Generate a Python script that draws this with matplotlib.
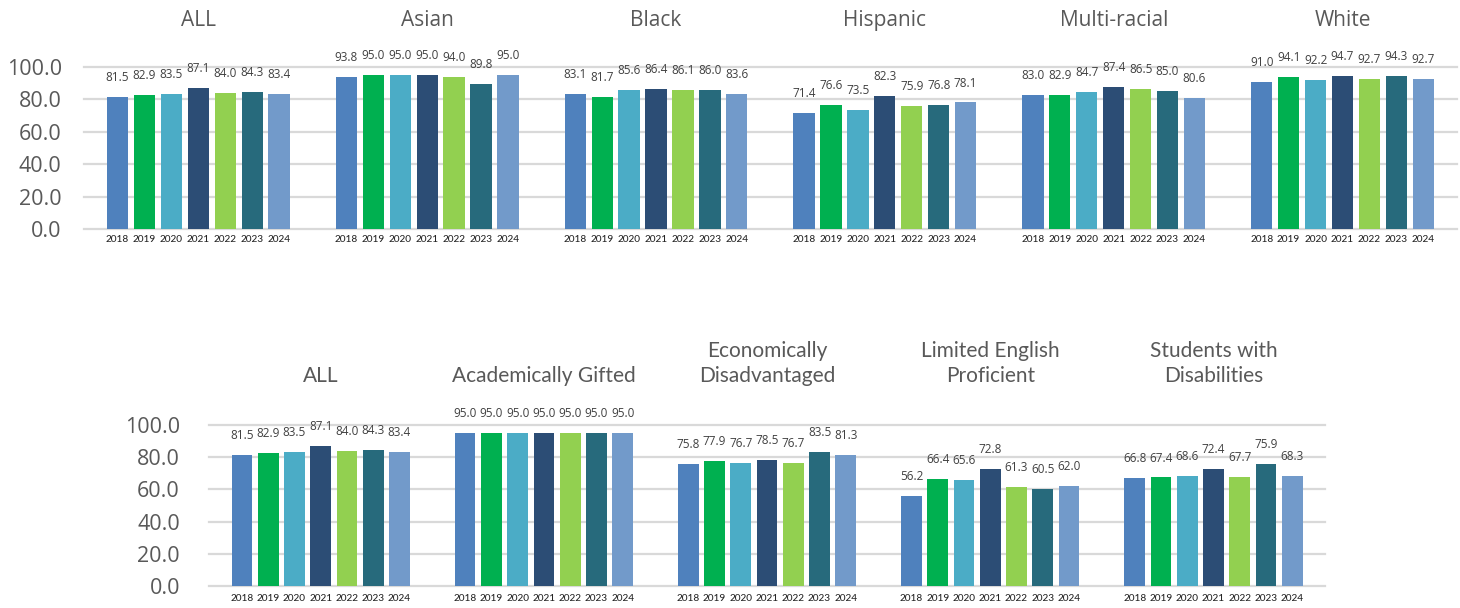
import matplotlib
matplotlib.use("Agg")
import matplotlib.pyplot as plt

years = ["2018", "2019", "2020", "2021", "2022", "2023", "2024"]
colors = ["#4F81BD", "#00B050", "#4BACC6", "#2C4D75", "#92D050", "#276A7C", "#729ACA"]

race_groups = ["ALL", "Asian", "Black", "Hispanic", "Multi-racial", "White"]
race_all = [81.5, 82.9, 83.5, 87.1, 84.0, 84.3, 83.4]
race_asian = [93.8, 95.0, 95.0, 95.0, 94.0, 89.8, 95.0]
race_black = [83.1, 81.7, 85.6, 86.4, 86.1, 86.0, 83.6]
race_hispanic = [71.4, 76.6, 73.5, 82.3, 75.9, 76.8, 78.1]
race_multi = [83.0, 82.9, 84.7, 87.4, 86.5, 85.0, 80.6]
race_white = [91.0, 94.1, 92.2, 94.7, 92.7, 94.3, 92.7]

sub_groups = ["ALL", "Academically Gifted", "Economically\nDisadvantaged",
              "Limited English\nProficient", "Students with\nDisabilities"]
sub_all = [81.5, 82.9, 83.5, 87.1, 84.0, 84.3, 83.4]
sub_gifted = [95.0, 95.0, 95.0, 95.0, 95.0, 95.0, 95.0]
sub_econ = [75.8, 77.9, 76.7, 78.5, 76.7, 83.5, 81.3]
sub_lep = [56.2, 66.4, 65.6, 72.8, 61.3, 60.5, 62.0]
sub_swd = [66.8, 67.4, 68.6, 72.4, 67.7, 75.9, 68.3]

G = 8.5  # slots per group
BW = 0.79


def panel(ax, groups, series, title_font, title_y, title_va, ypad, xpad):
    xs, labs = [], []
    for g, vals in enumerate(series):
        for j, v in enumerate(vals):
            x = g * G + (j - 3)
            ax.bar(x, v, width=BW, color=colors[j], zorder=3)
            ax.annotate(f"{v:.1f}", (x, v), xytext=(0, 14), textcoords="offset points",
                        ha="center", va="center", fontsize=8.5, color="#404040",
                        family="Open Sans")
            xs.append(x)
            labs.append(years[j])
        ax.text(g * G, title_y, groups[g], transform=ax.get_xaxis_transform(),
                ha="center", va=title_va, fontsize=15, color="#595959",
                family=title_font, linespacing=1.35)
    ax.set_xlim(-G / 2, len(groups) * G - G / 2)
    ax.set_ylim(0, 100)
    ax.set_yticks([0, 20, 40, 60, 80, 100])
    ax.set_yticklabels([f"{t:.1f}" for t in [0, 20, 40, 60, 80, 100]],
                       fontsize=15.5, color="#595959", family="Open Sans")
    ax.set_xticks(xs)
    ax.set_xticklabels(labs, fontsize=7.2, color="#262626", family="Lato",
                       fontweight="medium")
    ax.tick_params(axis="x", length=0, pad=xpad)
    ax.tick_params(axis="y", length=0, pad=ypad)
    ax.yaxis.grid(True, color="#D9D9D9", linewidth=1.6, zorder=0)
    ax.set_axisbelow(True)
    for s in ax.spines.values():
        s.set_visible(False)


fig = plt.figure(figsize=(14.6, 6.08), dpi=100)
ax1 = fig.add_axes([0.0575, 0.6234, 0.9404, 0.2664])
ax2 = fig.add_axes([0.1432, 0.0362, 0.7644, 0.2648])

panel(ax1, race_groups,
      [race_all, race_asian, race_black, race_hispanic, race_multi, race_white],
      "Open Sans", 1.29, "center", 16, 4)
panel(ax2, sub_groups,
      [sub_all, sub_gifted, sub_econ, sub_lep, sub_swd],
      "Lato", 1.24, "bottom", 21, 6)

for ax in (ax1, ax2):
    for gl in ax.yaxis.get_gridlines():
        gl.set_clip_on(False)

fig.savefig("out.png", dpi=100)
